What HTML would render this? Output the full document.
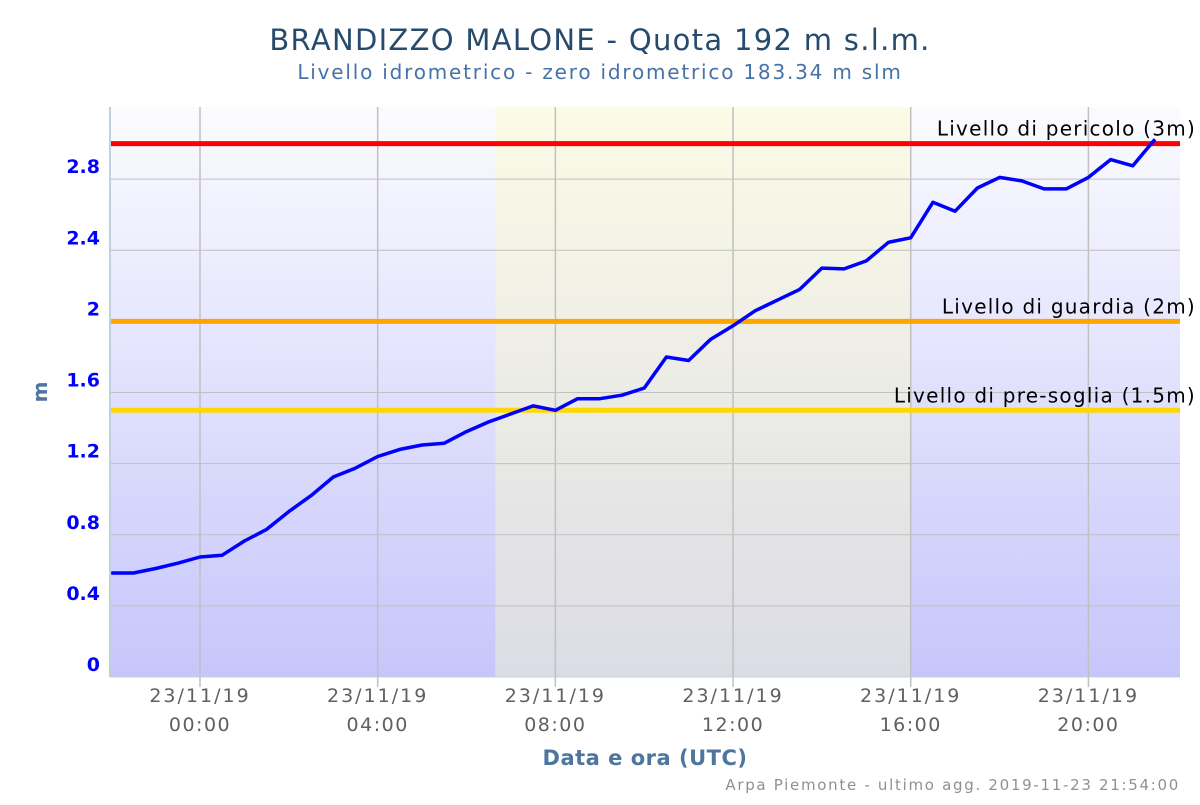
<!DOCTYPE html>
<html><head><meta charset="utf-8"><style>
body{margin:0;background:#fff;width:1200px;height:800px;overflow:hidden;font-family:"Liberation Sans","DejaVu Sans",sans-serif}
</style></head><body>
<svg width="1200" height="800" xmlns="http://www.w3.org/2000/svg">
<defs>
<linearGradient id="bg" x1="0" y1="0" x2="0" y2="1"><stop offset="0" stop-color="#fbfbff"/><stop offset="1" stop-color="#c6c6fb"/></linearGradient>
<linearGradient id="day" x1="0" y1="0" x2="0" y2="1"><stop offset="0" stop-color="#fbfbe6"/><stop offset="1" stop-color="#dcdce6"/></linearGradient>
</defs>
<text x="600" y="50" text-anchor="middle" font-family="DejaVu Sans" font-size="29" letter-spacing="1.3" fill="#274b6d">BRANDIZZO MALONE - Quota 192 m s.l.m.</text>
<text x="600" y="79" text-anchor="middle" font-family="DejaVu Sans" font-size="20" letter-spacing="1.8" fill="#4572a7">Livello idrometrico - zero idrometrico 183.34 m slm</text>
<rect x="110" y="107" width="1070" height="570" fill="url(#bg)"/>
<g id="bands"></g>
<g id="grid"></g>
<g id="thr"></g>
<path id="line" fill="none" stroke="#0000ff" stroke-width="3.5" stroke-linejoin="round"/>
<g id="ylab"></g>
<g id="xlab"></g>
<line x1="110" y1="107" x2="110" y2="677" stroke="#c0d0e0" stroke-width="2"/>
<line x1="110" y1="677" x2="1180" y2="677" stroke="#c0d0e0" stroke-width="1"/>
<text x="47" y="392" text-anchor="middle" transform="rotate(-90 47 392)" font-family="DejaVu Sans" font-size="20" font-weight="bold" fill="#4d759e">m</text>
<text x="645" y="765" text-anchor="middle" font-family="DejaVu Sans" font-size="21" font-weight="bold" letter-spacing="0.5" fill="#4d759e">Data e ora (UTC)</text>
<text x="1180" y="790" text-anchor="end" font-family="DejaVu Sans" font-size="15" letter-spacing="1.7" fill="#909090">Arpa Piemonte - ultimo agg. 2019-11-23 21:54:00</text>
</svg>
<script>
const hours=[-2,-1.5,-1,-0.5,0,0.5,1,1.5,2,2.5,3,3.5,4,4.5,5,5.5,6,6.5,7,7.5,8,8.5,9,9.5,10,10.5,11,11.5,12,12.5,13,13.5,14,14.5,15,15.5,16,16.5,17,17.5,18,18.5,19,19.5,20,20.5,21,21.5];
const levels=[0.585,0.585,0.61,0.64,0.675,0.685,0.765,0.83,0.93,1.02,1.125,1.175,1.24,1.28,1.305,1.315,1.38,1.435,1.48,1.525,1.5,1.565,1.565,1.585,1.625,1.8,1.78,1.9,1.975,2.06,2.12,2.18,2.3,2.295,2.34,2.445,2.47,2.67,2.62,2.75,2.81,2.79,2.745,2.745,2.81,2.91,2.875,3.025];
const yTicks=[0,0.4,0.8,1.2,1.6,2,2.4,2.8];
const yTickLabels=["0","0.4","0.8","1.2","1.6","2","2.4","2.8"];
const xTicks=[0,4,8,12,16,20];
const xTickLabels=["00:00","04:00","08:00","12:00","16:00","20:00"];
const xDateLabel="23/11/19";
const thresholds=[3,2,1.5];
const thresholdLabels=["Livello di pericolo (3m)","Livello di guardia (2m)","Livello di pre-soglia (1.5m)"];
const thresholdColors=["#ff0000","#ffa500","#ffd700"];
const dayBand=[6.65,16];
const X=h=>200+(h)*44.42, Y=v=>677-v*177.8;
const NS="http://www.w3.org/2000/svg";
function mk(t,a,p){const e=document.createElementNS(NS,t);for(const k in a)e.setAttribute(k,a[k]);p.appendChild(e);return e;}
const bands=document.getElementById('bands');
const b=mk('rect',{x:X(dayBand[0]),y:107,width:X(dayBand[1])-X(dayBand[0]),height:570,fill:'url(#day)'},bands);


const grid=document.getElementById('grid'),yl=document.getElementById('ylab'),xl=document.getElementById('xlab');
yTicks.forEach((v,i)=>{const l=mk('line',{x1:110,x2:1180,y1:Y(v),y2:Y(v),stroke:'#c0c0c0','stroke-width':1},grid);


const t=mk('text',{x:100,y:Y(v)-6,'text-anchor':'end','font-family':'DejaVu Sans','font-size':19,'font-weight':'bold',fill:'#0000ff'},yl);t.textContent=yTickLabels[i];

});
xTicks.forEach((h,i)=>{const l=mk('line',{x1:X(h),x2:X(h),y1:107,y2:687,stroke:'#c0c0c0','stroke-width':1.5},grid);


const t=mk('text',{x:X(h),y:702,'text-anchor':'middle','font-family':'DejaVu Sans','font-size':19,'letter-spacing':2,fill:'#606060'},xl);t.textContent=xDateLabel;


const t2=mk('text',{x:X(h),y:731,'text-anchor':'middle','font-family':'DejaVu Sans','font-size':19,'letter-spacing':1.5,fill:'#606060'},xl);t2.textContent=xTickLabels[i];

});
const thr=document.getElementById('thr');
thresholds.forEach((v,i)=>{const l=mk('line',{x1:110,x2:1180,y1:Y(v),y2:Y(v),stroke:thresholdColors[i],'stroke-width':5},thr);


const t=mk('text',{x:1196,y:Y(v)-8,'text-anchor':'end','font-family':'DejaVu Sans','font-size':20,'letter-spacing':1.25,fill:'#000'},thr);t.textContent=thresholdLabels[i];

});
document.getElementById('line').setAttribute('d',hours.map((h,i)=>(i?'L':'M')+X(h).toFixed(1)+' '+Y(levels[i]).toFixed(1)).join(' '));
</script>
</body></html>
